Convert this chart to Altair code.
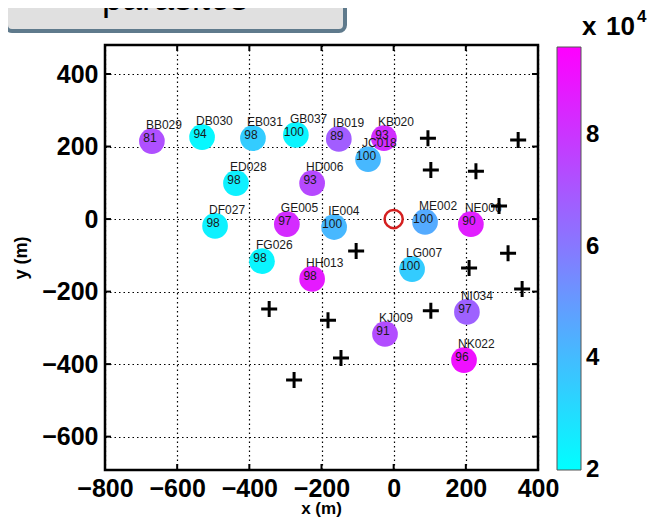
import altair as alt
import pandas as pd

# ---------------- data ----------------
site_names = ["BB029", "DB030", "EB031", "GB037", "IB019", "KB020", "JC018",
              "ED028", "HD006", "DF027", "GE005", "IE004", "ME002", "NE006",
              "FG026", "HH013", "LG007", "NI034", "KJ009", "NK022"]
site_x = [-670, -531, -390, -271, -152, -27, -71,
          -437, -226, -495, -296, -165, 87, 214,
          -365, -226, 51, 203, -24, 195]
site_y = [215, 226, 223, 232, 221, 223, 165,
          99, 99, -19, -14, -22, -8, -14,
          -116, -165, -138, -256, -317, -389]
site_pct = [81, 94, 98, 100, 89, 93, 100,
            98, 93, 98, 97, 100, 100, 90,
            98, 98, 100, 97, 91, 96]
site_value = [72000, 22000, 35000, 23000, 68000, 82000, 41000,
              24000, 74000, 24000, 83000, 41000, 45000, 87000,
              23000, 88000, 35000, 67000, 73000, 91000]

plus_x = [95, 345, 103, 228, 292, -104, 317, 209, 356, -345, -182, 103, -146, -276]
plus_y = [223, 218, 135, 132, 36, -88, -94, -135, -193, -248, -279, -253, -383, -444]

origin_x = [0]
origin_y = [0]

x_ticks = [-800, -600, -400, -200, 0, 200, 400]
y_ticks = [-600, -400, -200, 0, 200, 400]
cbar_ticks = [20000, 40000, 60000, 80000]
color_domain = [19950, 95800]

# ---------------- layout ----------------
W, H = 433, 425
FONT = "Liberation Sans"

xs = alt.Scale(domain=[-800, 400], nice=False, zero=False)
ys = alt.Scale(domain=[-692, 480], nice=False, zero=False)

sites = pd.DataFrame({"name": site_names, "x": site_x, "y": site_y,
                      "pct": site_pct, "val": site_value})
plus = pd.DataFrame({"x": plus_x, "y": plus_y})
origin = pd.DataFrame({"x": origin_x, "y": origin_y})
xt = pd.DataFrame({"x": x_ticks})
yt = pd.DataFrame({"y": y_ticks})

x_axis = alt.Axis(values=x_ticks, title=None, ticks=False, domain=False,
                  grid=True, gridColor="black", gridDash=[1.5, 3], gridWidth=1.2,
                  labelFont=FONT, labelFontSize=25, labelFontWeight="bold",
                  labelColor="black", labelPadding=6, labelOverlap=False,
                  labelBound=False, labelFlush=False)
y_axis = alt.Axis(values=y_ticks, title="y (m)", ticks=False, domain=False,
                  grid=True, gridColor="black", gridDash=[1.5, 3], gridWidth=1.2,
                  labelFont=FONT, labelFontSize=25, labelFontWeight="bold",
                  labelColor="black", labelPadding=7, labelOverlap=False,
                  labelFlush=False,
                  titleFont=FONT, titleFontSize=18, titleFontWeight="bold",
                  titleColor="black", titlePadding=11)


def X():
    return alt.X("x:Q", scale=xs, axis=x_axis)


def Y():
    return alt.Y("y:Q", scale=ys, axis=y_axis)


color = alt.Color("val:Q",
                  scale=alt.Scale(domain=color_domain, range=["#00ffff", "#ff00ff"],
                                  interpolate="rgb"),
                  legend=alt.Legend(orient="none", legendX=452, legendY=2,
                                    direction="vertical", gradientLength=423,
                                    gradientThickness=24, title=None,
                                    values=cbar_ticks,
                                    labelExpr="datum.value / 10000",
                                    labelFont=FONT, labelFontSize=24,
                                    labelFontWeight="bold", labelColor="black",
                                    labelOffset=5, labelBaseline="middle",
                                    labelOverlap=False,
                                    gradientStrokeColor="#555",
                                    gradientStrokeWidth=1, padding=0))

circles = alt.Chart(sites).mark_circle(size=660, opacity=1).encode(
    x=X(), y=Y(), color=color)

names = alt.Chart(sites).mark_text(align="left", baseline="middle", dx=-6, dy=-16,
                                   font=FONT, fontSize=12, color="#1a1a1a").encode(
    x=X(), y=Y(), text="name:N")

numbers = alt.Chart(sites).mark_text(align="center", baseline="middle", dx=-2, dy=-3,
                                     font=FONT, fontSize=12, color="#1a1a1a").encode(
    x=X(), y=Y(), text="pct:Q")

pluses = alt.Chart(plus).mark_point(shape="M-1,0H1M0,-1V1", size=256, filled=False,
                                    stroke="black", strokeWidth=3, opacity=1).encode(
    x=X(), y=Y())

ring = alt.Chart(origin).mark_point(shape="circle", size=330, filled=False,
                                    stroke="#d42020", strokeWidth=2.5, opacity=1).encode(
    x=X(), y=Y())

# inward MATLAB-style ticks
tick_style = dict(color="black", strokeWidth=2)
xt_bot = alt.Chart(xt).mark_rule(**tick_style).encode(
    x=X(), y=alt.value(H), y2=alt.value(H - 6))
xt_top = alt.Chart(xt).mark_rule(**tick_style).encode(
    x=X(), y=alt.value(0), y2=alt.value(6))
yt_left = alt.Chart(yt).mark_rule(**tick_style).encode(
    y=Y(), x=alt.value(0), x2=alt.value(6))
yt_right = alt.Chart(yt).mark_rule(**tick_style).encode(
    y=Y(), x=alt.value(W), x2=alt.value(W - 6))

# x axis title
x_title = alt.Chart(pd.DataFrame({"t": ["x (m)"]})).mark_text(
    align="center", baseline="alphabetic", font=FONT, fontSize=17,
    fontWeight="bold", color="black").encode(
    x=alt.value(W / 2), y=alt.value(469), text="t:N")

# colorbar multiplier "x 10^4"
cb_x = alt.Chart(pd.DataFrame({"t": ["x"]})).mark_text(
    align="left", baseline="alphabetic", font=FONT, fontSize=26,
    fontWeight="bold", color="black").encode(
    x=alt.value(477), y=alt.value(-10), text="t:N")
cb_ten = alt.Chart(pd.DataFrame({"t": ["10"]})).mark_text(
    align="left", baseline="alphabetic", font=FONT, fontSize=26,
    fontWeight="bold", color="black").encode(
    x=alt.value(501), y=alt.value(-10), text="t:N")
cb_exp = alt.Chart(pd.DataFrame({"t": ["4"]})).mark_text(
    align="left", baseline="alphabetic", font=FONT, fontSize=17,
    fontWeight="bold", color="black").encode(
    x=alt.value(532), y=alt.value(-23), text="t:N")

# slide title box (cut off at the top)
title_box = alt.Chart(pd.DataFrame({"t": ["parasites"]})).mark_rect(
    fill="#e0e0e0", stroke="#5f7a8c", strokeWidth=4, cornerRadius=6).encode(
    x=alt.value(-99), x2=alt.value(240), y=alt.value(-70), y2=alt.value(-14))
title_text = alt.Chart(pd.DataFrame({"t": ["parasites"]})).mark_text(
    align="center", baseline="alphabetic", font=FONT, fontSize=36,
    color="black").encode(
    x=alt.value(70), y=alt.value(-35), text="t:N")

chart = alt.layer(
    circles, names, numbers, pluses, ring,
    xt_bot, xt_top, yt_left, yt_right, x_title,
    cb_x, cb_ten, cb_exp, title_box, title_text,
).properties(
    width=W, height=H,
    autosize=alt.AutoSizeParams(type="none"),
    padding={"left": 97, "top": 37, "right": 112, "bottom": 47},
    background="white",
).configure_view(stroke="black", strokeWidth=2.5)

chart.save("out.html", embed_options={"renderer": "svg", "actions": False})
